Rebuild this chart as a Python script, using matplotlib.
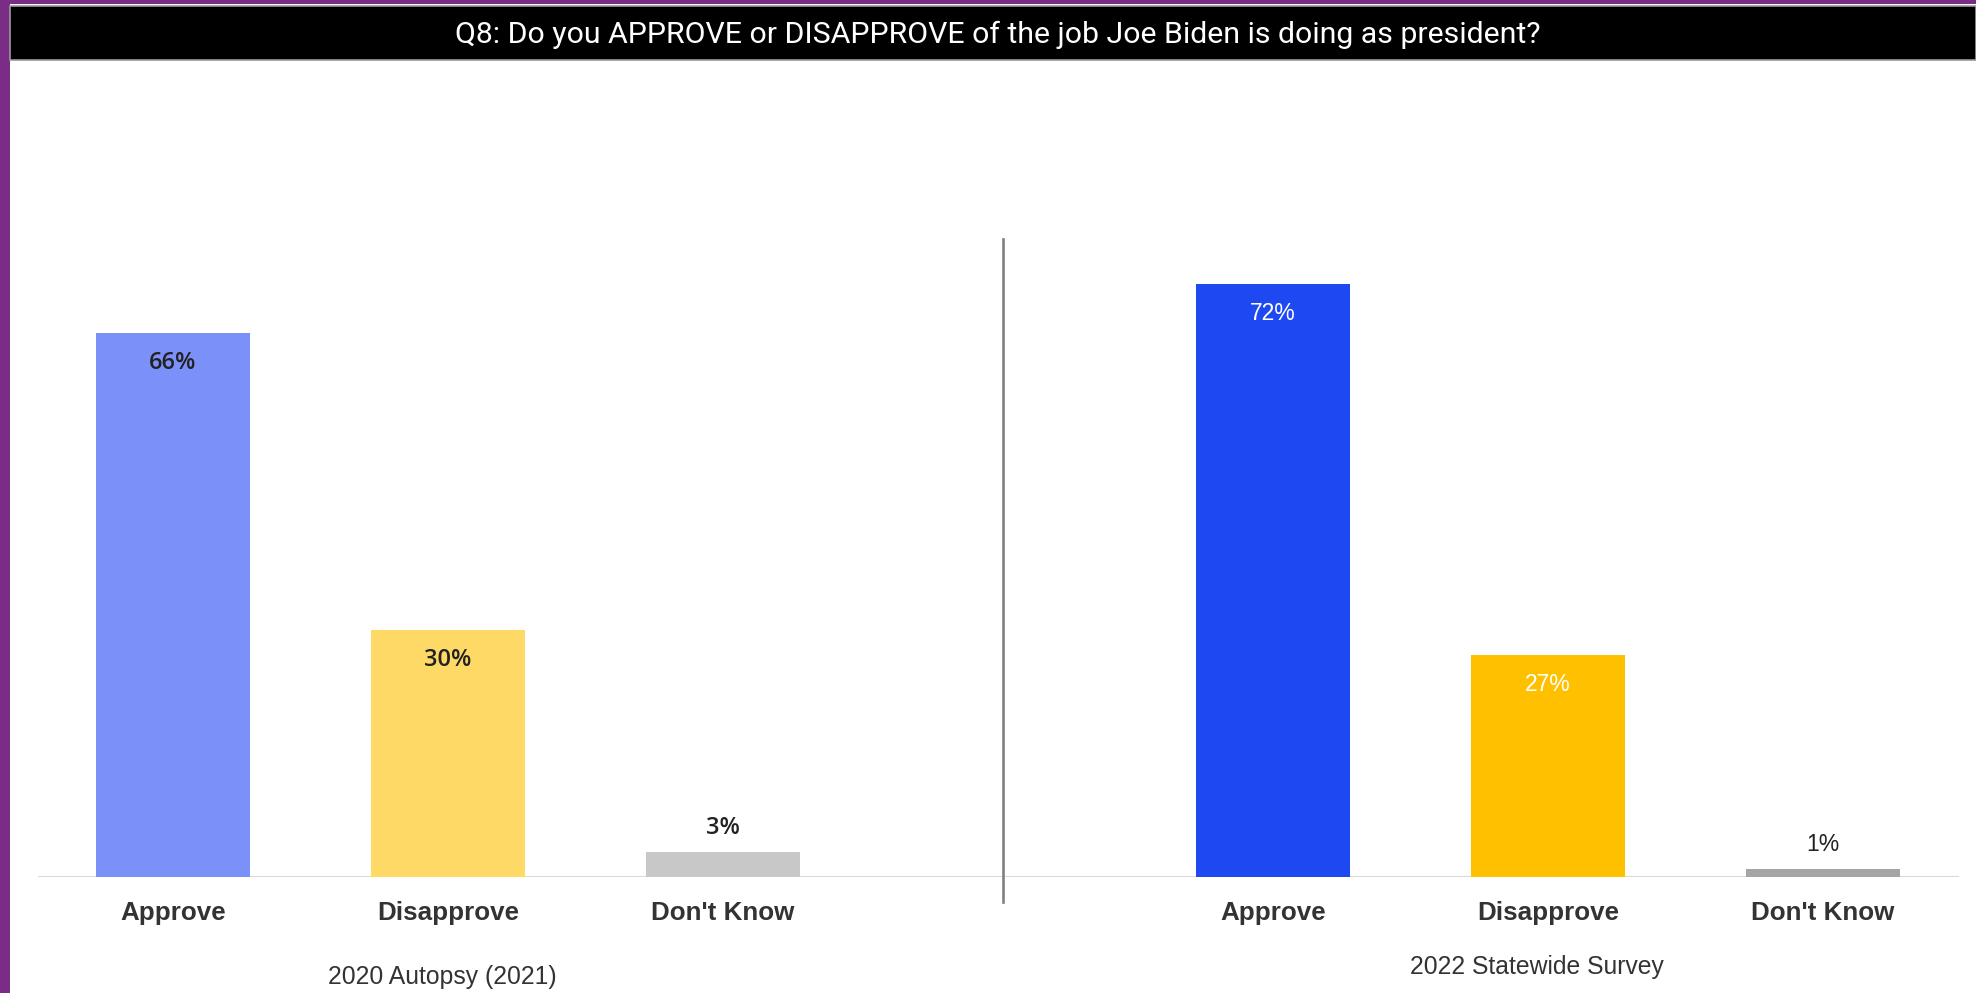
import matplotlib
matplotlib.use("Agg")
import matplotlib.pyplot as plt
from matplotlib.patches import Rectangle
from matplotlib.lines import Line2D
from matplotlib import font_manager

# ---- data ----
title = "Q8: Do you APPROVE or DISAPPROVE of the job Joe Biden is doing as president?"
categories = ["Approve", "Disapprove", "Don't Know"]
groups = ["2020 Autopsy (2021)", "2022 Statewide Survey"]
values_2020 = [66, 30, 3]
values_2022 = [72, 27, 1]
colors_2020 = ["#7B90F8", "#FFD966", "#C8C8C8"]
colors_2022 = ["#1E48F2", "#FFC000", "#A5A5A5"]
label_colors_2020 = ["#222222", "#222222", "#222222"]
label_colors_2022 = ["#FFFFFF", "#FFFFFF", "#222222"]

available = {f.name for f in font_manager.fontManager.ttflist}
narrow = "Liberation Sans Narrow" if "Liberation Sans Narrow" in available else "Liberation Sans"
sub_size = 20 if narrow == "Liberation Sans Narrow" else 17.8

W, H = 1976, 993
fig = plt.figure(figsize=(W / 100, H / 100), dpi=100)
fig.patch.set_facecolor("#7B2C87")

def fx(px):
    return px / W

def fy(py):
    return 1 - py / H

# background axes
bg = fig.add_axes([0, 0, 1, 1], zorder=-5)
bg.set_xlim(0, 1)
bg.set_ylim(0, 1)
bg.axis("off")
bg.add_patch(Rectangle((fx(10), 0), 1 - fx(10), fy(4), facecolor="white", edgecolor="none"))
bg.add_patch(Rectangle((fx(10), fy(60)), 1 - fx(10), fy(6) - fy(60),
                       facecolor="black", edgecolor="#9a9a9a", linewidth=1.2))
bg.text(fx(998), fy(35), title, color="white", ha="center", va="center",
        fontsize=21.8, family="Roboto")

# axes
base_px = 877
top_px = 218
ax = fig.add_axes([fx(38), fy(base_px), fx(1959) - fx(38), (base_px - top_px) / H])
ax.set_xlim(-0.491, 6.495)
ax.set_ylim(0, 80)
ax.axis("off")
ax.patch.set_alpha(0)

pos_2020 = [0, 1, 2]
pos_2022 = [4, 5, 6]
bw = 0.56

ax.bar(pos_2020, values_2020, width=bw, color=colors_2020, zorder=2)
ax.bar(pos_2022, values_2022, width=bw, color=colors_2022, zorder=2)

# baseline
ax.axhline(0, color="#D9D9D9", lw=1.5, zorder=1)

# divider
ax.add_line(Line2D([3.02, 3.02], [77.4, -3.0], color="#808080", lw=1.9, clip_on=False))

def value_labels(positions, values, lcolors, fam, size, weight):
    for x, v, c in zip(positions, values, lcolors):
        off = -21.5 if v > 10 else 17.5
        ax.annotate(f"{v}%", (x, v), xytext=(0, off), textcoords="offset points",
                    ha="center", va="center", fontsize=size, color=c, family=fam,
                    fontweight=weight, zorder=3)

value_labels(pos_2020, values_2020, label_colors_2020, "Open Sans", 17, "semibold")
value_labels(pos_2022, values_2022, label_colors_2022, "Liberation Sans", 16.5, "normal")

scale = (base_px - top_px) / 80
y_cat = -(913 - base_px) / scale
for positions in (pos_2020, pos_2022):
    for x, c in zip(positions, categories):
        ax.text(x, y_cat, c, ha="center", va="center", fontsize=18.7,
                fontweight="bold", color="#333333", family="Liberation Sans", clip_on=False)

ax.text(pos_2020[1] - 0.02, -(977 - base_px) / scale, groups[0], ha="center", va="center",
        fontsize=sub_size, color="#333333", family=narrow, clip_on=False)
ax.text(pos_2022[1] - 0.04, -(967 - base_px) / scale, groups[1], ha="center", va="center",
        fontsize=sub_size, color="#333333", family=narrow, clip_on=False)

fig.savefig("out.png", dpi=100, facecolor=fig.get_facecolor())
